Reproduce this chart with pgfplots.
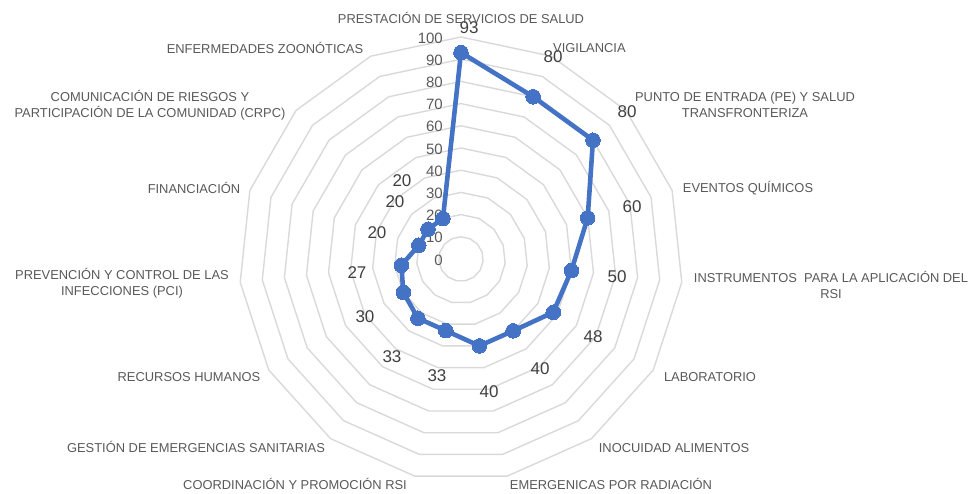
\documentclass[border=0pt]{standalone}
\usepackage{fontspec}
\setmainfont{Liberation Sans}
\usepackage{pgfplots}
\usepgfplotslibrary{polar}
\pgfplotsset{compat=1.18}
\usepackage{pgfplotstable}
\definecolor{serie}{HTML}{4472C4}
\definecolor{gridc}{HTML}{D9D9D9}
\definecolor{lab}{HTML}{595959}
\definecolor{num}{HTML}{404040}

\pgfplotstableread{
ang val
90 93
66 80
42 80
18 60
354 50
330 48
306 40
282 40
258 33
234 33
210 30
186 27
162 20
138 20
114 20
90 93
}\datos

\begin{document}
\begin{tikzpicture}[x=1pt,y=1pt]
\useasboundingbox (-461,-234) rectangle (512,259);
\begin{polaraxis}[
  at={(0,0)}, anchor=center,
  scale only axis, width=444pt, height=444pt,
  hide axis, clip=false,
  xmin=0, xmax=360, ymin=0, ymax=100,
]
\pgfplotsinvokeforeach{10,20,...,100}{
  \addplot[gridc, line width=1.4pt, no marks] table[x=ang, y expr=#1] {\datos};
}
\addplot[serie, line width=4.6pt, mark=*, mark size=7.3pt, mark options={fill=serie, draw=serie, line width=0pt}] table[x=ang, y=val] {\datos};
\pgfplotsinvokeforeach{0,10,...,100}{
  \node[anchor=east, text=lab, font=\fontsize{15}{15}\selectfont, xshift=-18pt, yshift=-1pt, inner sep=0pt] at (axis cs:90,#1) {#1};
}
\end{polaraxis}
% data labels
\begin{scope}[every node/.style={text=num, font=\fontsize{17}{17}\selectfont, inner sep=0pt}]
\node at (8,231) {93};
\node at (92,202) {80};
\node at (166,147) {80};
\node at (171,52) {60};
\node at (156,-18) {50};
\node at (132,-78) {48};
\node at (79,-110) {40};
\node at (28,-133) {40};
\node at (-24,-117) {33};
\node at (-69,-98) {33};
\node at (-96,-58) {30};
\node at (-104,-14) {27};
\node at (-84,26) {20};
\node at (-66,57) {20};
\node at (-59,78) {20};
\end{scope}
% category labels
\begin{scope}[every node/.style={text=lab, font=\fontsize{12.9}{16}\selectfont, align=center, inner sep=0pt}]
\node at (0,241) {PRESTACIÓN DE SERVICIOS DE SALUD};
\node[anchor=west] at (92,211) {VIGILANCIA};
\node at (284,154) {PUNTO DE ENTRADA (PE) Y SALUD\\TRANSFRONTERIZA};
\node at (287,71) {EVENTOS QUÍMICOS};
\node at (370,-26) {INSTRUMENTOS\ \ PARA LA APLICACIÓN DEL\\RSI};
\node at (249,-118) {LABORATORIO};
\node at (213,-189) {INOCUIDAD ALIMENTOS};
\node at (150,-225) {EMERGENICAS POR RADIACIÓN};
\node at (-166,-225) {COORDINACIÓN Y PROMOCIÓN RSI};
\node at (-265,-188) {GESTIÓN DE EMERGENCIAS SANITARIAS};
\node at (-272,-118) {RECURSOS HUMANOS};
\node at (-339,-24) {PREVENCIÓN Y CONTROL DE LAS\\INFECCIONES (PCI)};
\node at (-267,71) {FINANCIACIÓN};
\node at (-311,154) {COMUNICACIÓN DE RIESGOS Y\\PARTICIPACIÓN DE LA COMUNIDAD (CRPC)};
\node at (-196,211) {ENFERMEDADES ZOONÓTICAS};
\end{scope}
\end{tikzpicture}
\end{document}
